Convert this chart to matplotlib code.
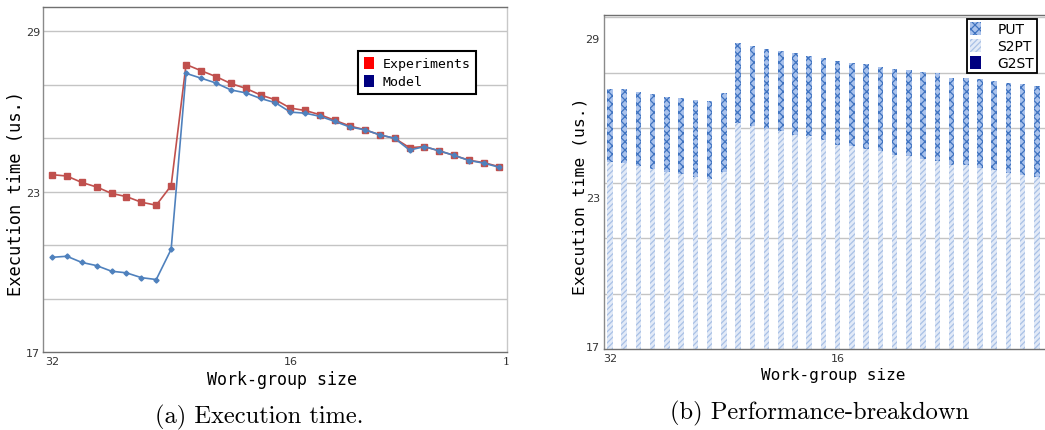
import matplotlib
matplotlib.use("Agg")
import matplotlib.pyplot as plt
from matplotlib.patches import Patch
import numpy as np

# Work-group sizes (x axis, 32 down to 2)
sizes = list(range(32, 1, -1))

# (a) Execution time (us.)
experiments = [23.63, 23.58, 23.34, 23.17, 22.93, 22.81, 22.60, 22.49, 23.22,
               27.75, 27.52, 27.30, 27.04, 26.86, 26.61, 26.43, 26.12, 26.03,
               25.87, 25.66, 25.45, 25.31, 25.12, 24.99, 24.64, 24.68, 24.52,
               24.35, 24.17, 24.08, 23.93]
model = [20.54, 20.58, 20.35, 20.23, 20.02, 19.96, 19.78, 19.71, 20.84,
         27.42, 27.24, 27.06, 26.80, 26.69, 26.48, 26.32, 25.97, 25.93,
         25.81, 25.62, 25.41, 25.31, 25.12, 24.99, 24.55, 24.68, 24.52,
         24.35, 24.16, 24.06, 23.91]

# (b) Performance breakdown: S2PT (bottom) and PUT (stacked on top)
s2pt = [23.76, 23.73, 23.61, 23.51, 23.40, 23.34, 23.21, 23.16, 23.41,
        25.17, 25.05, 24.95, 24.87, 24.75, 24.69, 24.57, 24.39, 24.33,
        24.24, 24.15, 24.03, 23.97, 23.87, 23.79, 23.67, 23.67, 23.55,
        23.46, 23.37, 23.31, 23.21]
put = [2.63, 2.66, 2.68, 2.72, 2.73, 2.73, 2.80, 2.80, 2.84,
       2.88, 2.92, 2.91, 2.89, 2.94, 2.92, 2.95, 3.01, 3.02,
       3.05, 3.06, 3.10, 3.12, 3.14, 3.18, 3.14, 3.14, 3.22,
       3.23, 3.26, 3.28, 3.32]

grid_vals = [19, 21, 23, 25, 27, 29]
ytick_labels = ["29", "23", "17"]

W, H = 1045, 431
plt.rcParams["hatch.linewidth"] = 0.9
fig = plt.figure(figsize=(W / 100, H / 100), dpi=100)

mono = "DejaVu Sans Mono"
tick_kw = dict(fontsize=8, color="#333333", family="DejaVu Sans")


def style_axes(ax):
    for g in grid_vals:
        ax.axhline(g, color="#c4c4c4", lw=1.0, zorder=0)
    ax.spines["left"].set_color("#8a8a8a")
    ax.spines["bottom"].set_color("#707070")
    ax.spines["top"].set_color("#707070")
    ax.spines["right"].set_color("#c8c8c8")
    for s in ax.spines.values():
        s.set_linewidth(1.0)
    ax.tick_params(length=0, pad=3)


# ---------------- (a) ----------------
ax1 = fig.add_axes([43 / W, 1 - 353 / H, 464 / W, 345 / H])
style_axes(ax1)
ax1.plot(sizes, experiments, color="#c0504d", lw=1.2, marker="s", ms=4.3, zorder=3)
ax1.plot(sizes, model, color="#4f81bd", lw=1.2, marker="D", ms=2.6, zorder=3)
ax1.set_xlim(32.6, 1.46)
ax1.set_ylim(17, 29.9)
ax1.set_yticks([29, 23, 17])
ax1.set_yticklabels(ytick_labels, **tick_kw)
ax1.tick_params(axis="y", pad=2)
ax1.set_xticks([32, 16, 1.5])
ax1.set_xticklabels(["32", "16", "1"], **tick_kw)
ax1.get_xticklabels()[-1].set_family("DejaVu Serif")

h1 = [Patch(facecolor="#ff0000", edgecolor="none"),
      Patch(facecolor="#000080", edgecolor="none")]
leg1 = ax1.legend(h1, ["Experiments", "Model"], loc="upper left",
                  bbox_to_anchor=(358 / W, 1 - 52 / H), bbox_transform=fig.transFigure,
                  prop={"family": mono, "size": 9.5}, fancybox=False, framealpha=1,
                  edgecolor="black", handlelength=0.8, handleheight=1.0,
                  handletextpad=0.6, borderpad=0.45, labelspacing=0.35, borderaxespad=0)
leg1.get_frame().set_linewidth(1.5)

fig.text(16 / W, 1 - 194 / H, "Execution time (us.)", rotation=90, ha="center",
         va="center", family=mono, fontsize=12.3)
fig.text(282 / W, 1 - 380 / H, "Work-group size", ha="center", va="center",
         family=mono, fontsize=12)
fig.text(259 / W, 1 - 417 / H, "(a) Execution time.", ha="center", va="center",
         family="cmr10", fontsize=17.6)

# ---------------- (b) ----------------
ax2 = fig.add_axes([604 / W, 1 - 350 / H, 458 / W, 334 / H])
style_axes(ax2)
x = np.array(sizes)
ax2.bar(x, s2pt, width=0.39, facecolor="#e2eaf7", edgecolor="#a9c1e6", hatch="//////",
        lw=0, zorder=2)
ax2.bar(x, put, bottom=s2pt, width=0.39, facecolor="#a9c2ec", edgecolor="#3f73c0",
        hatch="xxxx", lw=0, zorder=2)
ax2.set_xlim(32.42, 0.24)
ax2.set_ylim(17, 29.08)
ax2.set_yticks([28.24, 22.51, 17.11])
ax2.set_yticklabels(ytick_labels, **tick_kw)
ax2.set_xticks([32, 16])
ax2.set_xticklabels(["32", "16"], **tick_kw)

h2 = [Patch(facecolor="#a9c2ec", edgecolor="#3f73c0", hatch="xxxx", lw=0),
      Patch(facecolor="#e2eaf7", edgecolor="#a9c1e6", hatch="//////", lw=0),
      Patch(facecolor="#000080", edgecolor="none")]
leg2 = ax2.legend(h2, ["PUT", "S2PT", "G2ST"], loc="upper left",
                  bbox_to_anchor=(967 / W, 1 - 20 / H), bbox_transform=fig.transFigure,
                  prop={"family": "DejaVu Sans", "size": 10}, fancybox=False, framealpha=1,
                  edgecolor="black", handlelength=0.8, handleheight=1.05,
                  handletextpad=1.2, borderpad=0.2, labelspacing=0.2, borderaxespad=0)
leg2.get_frame().set_linewidth(1.3)

fig.text(580 / W, 1 - 196 / H, "Execution time (us.)", rotation=90, ha="center",
         va="center", family=mono, fontsize=11.8)
fig.text(833 / W, 1 - 376 / H, "Work-group size", ha="center", va="center",
         family=mono, fontsize=11.5)
fig.text(820 / W, 1 - 413 / H, "(b) Performance-breakdown", ha="center", va="center",
         family="cmr10", fontsize=17.6)

fig.savefig("out.png", dpi=100)
